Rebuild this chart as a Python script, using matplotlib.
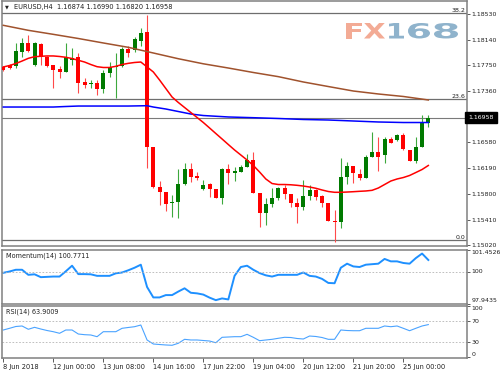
import numpy as np
import matplotlib
matplotlib.use('Agg')
import matplotlib.pyplot as plt
import matplotlib.transforms as mtrans
from matplotlib.textpath import TextPath
from matplotlib.patches import PathPatch
from matplotlib.font_manager import FontProperties

# EURUSD H4 candles
opens = [1.17721, 1.17756, 1.17741, 1.17958, 1.18090, 1.17756, 1.18075, 1.17882, 1.17756, 1.17691,
         1.17650, 1.17832, 1.17882, 1.17503, 1.17463, 1.17487, 1.17387, 1.17630, 1.17730, 1.17741,
         1.17994, 1.17984, 1.18125, 1.18261, 1.16511, 1.15904, 1.15828, 1.15661, 1.15681, 1.15950,
         1.16177, 1.16064, 1.15874, 1.15950, 1.15874, 1.15737, 1.16177, 1.16117, 1.16136, 1.16212,
         1.16314, 1.15818, 1.15514, 1.15646, 1.15737, 1.15889, 1.15798, 1.15661, 1.15601, 1.15768,
         1.15859, 1.15768, 1.15666, 1.15393, 1.15378, 1.16061, 1.16223, 1.16101, 1.16041, 1.16364,
         1.16435, 1.16390, 1.16633, 1.16618, 1.16693, 1.16466, 1.16303, 1.16511, 1.16874]
highs = [1.17741, 1.17771, 1.18090, 1.18166, 1.18211, 1.18110, 1.18090, 1.17893, 1.17756, 1.17741,
         1.18094, 1.18009, 1.17934, 1.17554, 1.17528, 1.17528, 1.17680, 1.17806, 1.17934, 1.18034,
         1.18044, 1.18176, 1.18313, 1.18515, 1.16511, 1.15995, 1.15828, 1.15783, 1.16177, 1.16268,
         1.16268, 1.16132, 1.16010, 1.15965, 1.15880, 1.16193, 1.16253, 1.16212, 1.16238, 1.16405,
         1.16440, 1.15818, 1.15737, 1.15889, 1.15909, 1.15935, 1.15798, 1.15737, 1.16010, 1.15935,
         1.15874, 1.15783, 1.15666, 1.15555, 1.16344, 1.16288, 1.16223, 1.16177, 1.16390, 1.16744,
         1.16663, 1.16668, 1.16663, 1.16705, 1.16724, 1.16466, 1.16668, 1.16997, 1.16990]
lows = [1.17665, 1.17695, 1.17706, 1.17882, 1.17953, 1.17741, 1.17756, 1.17726, 1.17402, 1.17554,
        1.17650, 1.17756, 1.17327, 1.17402, 1.17402, 1.17301, 1.17327, 1.17579, 1.17251, 1.17730,
        1.17882, 1.17958, 1.18044, 1.16193, 1.15889, 1.15631, 1.15540, 1.15449, 1.15434, 1.15935,
        1.15980, 1.16010, 1.15859, 1.15753, 1.15730, 1.15646, 1.15950, 1.16000, 1.16132, 1.16208,
        1.15813, 1.15297, 1.15328, 1.15601, 1.15707, 1.15722, 1.15601, 1.15358, 1.15555, 1.15707,
        1.15707, 1.15601, 1.15388, 1.15074, 1.15282, 1.15950, 1.15965, 1.16010, 1.16041, 1.16364,
        1.16152, 1.16273, 1.16572, 1.16605, 1.16466, 1.16299, 1.16273, 1.16511, 1.16820]
closes = [1.17680, 1.17706, 1.17973, 1.18090, 1.17969, 1.18090, 1.17873, 1.17741, 1.17680, 1.17650,
          1.17882, 1.17867, 1.17487, 1.17453, 1.17478, 1.17387, 1.17630, 1.17721, 1.17741, 1.17994,
          1.17934, 1.18146, 1.18237, 1.16516, 1.15904, 1.15828, 1.15646, 1.15681, 1.15950, 1.16177,
          1.16056, 1.16048, 1.15935, 1.15874, 1.15737, 1.16177, 1.16117, 1.16147, 1.16212, 1.16314,
          1.15818, 1.15514, 1.15646, 1.15737, 1.15889, 1.15798, 1.15661, 1.15605, 1.15768, 1.15859,
          1.15757, 1.15661, 1.15393, 1.15378, 1.16061, 1.16223, 1.16117, 1.16041, 1.16364, 1.16435,
          1.16364, 1.16633, 1.16577, 1.16693, 1.16481, 1.16303, 1.16511, 1.16880, 1.16958]

# red moving average, one value per bar
ma_fast = [1.17726, 1.17748, 1.17778, 1.17816, 1.17857, 1.17882, 1.17888, 1.17893, 1.17893, 1.17885,
           1.17873, 1.17854, 1.17827, 1.17801, 1.17763, 1.17730, 1.17718, 1.17718, 1.17736, 1.17763,
           1.17781, 1.17794, 1.17801, 1.17726, 1.17650, 1.17528, 1.17399, 1.17270, 1.17187, 1.17111,
           1.17035, 1.16959, 1.16883, 1.16800, 1.16716, 1.16633, 1.16549, 1.16466, 1.16390, 1.16314,
           1.16231, 1.16132, 1.16026, 1.15957, 1.15942, 1.15942, 1.15938, 1.15930, 1.15919, 1.15904,
           1.15885, 1.15859, 1.15836, 1.15824, 1.15824, 1.15828, 1.15833, 1.15839, 1.15844, 1.15854,
           1.15889, 1.15942, 1.15995, 1.16026, 1.16048, 1.16079, 1.16124, 1.16170, 1.16231]

# brown (slow) moving average
ma_slow_bars = [0, 4, 8, 12, 16, 20, 24, 28, 32, 36, 40, 44, 48, 52, 56, 60, 64, 68]
ma_slow = [1.18358, 1.18282, 1.18221, 1.18158, 1.18090, 1.18024, 1.17938, 1.17851, 1.17774,
           1.17710, 1.17642, 1.17579, 1.17498, 1.17429, 1.17361, 1.17316, 1.17278, 1.17225]

# blue moving average
ma_mid_bars = [0, 4, 8, 10, 12, 16, 20, 23, 24, 26, 28, 30, 32, 36, 40, 44, 48, 52, 56, 60, 64, 68]
ma_mid = [1.17118, 1.17118, 1.17118, 1.17126, 1.17133, 1.17133, 1.17133, 1.17138, 1.17118, 1.17088,
          1.17050, 1.17012, 1.16989, 1.16967, 1.16956, 1.16944, 1.16929, 1.16921, 1.16906, 1.16891,
          1.16883, 1.16883]

momentum = [99.938, 100.024, 100.136, 100.136, 99.807, 99.840, 99.655, 99.675, 99.695, 99.695,
            100.037, 100.399, 99.853, 99.853, 99.840, 99.741, 99.741, 99.741, 99.905, 99.958,
            100.103, 100.268, 100.465, 99.017, 98.338, 98.338, 98.490, 98.490, 98.720, 98.931,
            98.641, 98.602, 98.523, 98.325, 98.161, 98.273, 98.207, 99.741, 100.314, 100.399,
            100.136, 99.919, 99.774, 99.695, 99.807, 99.807, 99.807, 99.807, 99.958, 99.741,
            99.695, 99.543, 99.280, 99.260, 100.268, 100.531, 100.353, 100.314, 100.465, 100.498,
            100.531, 100.840, 100.682, 100.682, 100.577, 100.531, 100.893, 101.189, 100.7711]

rsi = [53.4, 56.7, 60.2, 61.2, 54.8, 58.6, 55.3, 52.4, 50.1, 47.0,
       53.4, 53.4, 45.6, 44.3, 43.7, 40.4, 50.1, 50.1, 50.1, 56.7,
       58.3, 59.8, 63.1, 34.0, 26.2, 25.2, 24.3, 23.7, 27.6, 35.3,
       34.0, 34.0, 33.0, 32.0, 28.7, 39.2, 39.8, 40.4, 40.4, 45.0,
       39.2, 32.6, 34.0, 35.3, 37.3, 39.2, 38.8, 36.9, 35.9, 41.7,
       40.8, 38.8, 35.3, 35.3, 53.4, 52.4, 52.0, 52.0, 56.7, 56.7,
       56.7, 61.2, 59.8, 61.2, 56.7, 52.0, 56.7, 61.2, 63.9009]

date_ticks = [0, 8, 16, 24, 32, 40, 48, 56, 64]
date_labels = ['8 Jun 2018', '12 Jun 00:00', '13 Jun 08:00', '14 Jun 16:00', '17 Jun 22:00',
               '19 Jun 04:00', '20 Jun 12:00', '21 Jun 20:00', '25 Jun 00:00']
price_ticks = [1.18530, 1.18140, 1.17750, 1.17360, 1.16580, 1.16190, 1.15800, 1.15410, 1.15020]
fib_levels = [1.18541, 1.17236, 1.15100]
fib_names = ['38.2', '23.6', '0.0']
last_price = 1.16958
mom_ticks = [97.9435, 100, 101.4526]
rsi_ticks = [0, 30, 70, 100]

W, H = 500, 375
FS = 4.5
frame = '#808080'
plt.rcParams['font.family'] = ['DejaVu Sans']

fig = plt.figure(figsize=(5, 3.75), dpi=100)


def px_axes(left, top, right, bottom):
    return fig.add_axes([left / W, 1 - bottom / H, (right - left) / W, (bottom - top) / H])


ax = px_axes(2, 1, 466.7, 246)
axm = px_axes(2, 249.5, 466.7, 303.5)
axr = px_axes(2, 305.5, 466.7, 358)

xlim = (-0.21, 74.14)
for a in (ax, axm, axr):
    a.set_xlim(*xlim)
    for s in a.spines.values():
        s.set_color(frame)
        s.set_linewidth(1.1)
    a.yaxis.tick_right()
    a.tick_params(axis='y', length=2, width=0.6, color='#404040', pad=1.5,
                  labelsize=FS, labelcolor='#202020')
    a.tick_params(axis='x', bottom=False, labelbottom=False)

# main price panel
x = np.arange(len(opens))
o = np.array(opens)
h = np.array(highs)
l = np.array(lows)
c = np.array(closes)
up = c >= o
body_col = np.where(up, '#007a00', '#ff0000')
wick_col = np.where(up, '#3da83d', '#ff4a4a')
ax.vlines(x, l, h, colors=wick_col, lw=0.8, zorder=3)
ax.bar(x, np.maximum(np.abs(c - o), 0.0001), bottom=np.minimum(o, c), width=0.62,
       color=body_col, linewidth=0, zorder=4)

ax.plot(ma_slow_bars, ma_slow, color='#a0522d', lw=1.1, zorder=5)
ax.plot(ma_mid_bars, ma_mid, color='#0000ff', lw=1.1, zorder=5)
ax.plot(x, ma_fast, color='#ff0000', lw=1.1, zorder=5)

ax.set_ylim(1.15009, 1.18727)
ax.set_yticks(price_ticks)
ax.set_yticklabels(['%.5f' % p for p in price_ticks])

yb = mtrans.blended_transform_factory(ax.transAxes, ax.transData)
for lev, name in zip(fib_levels, fib_names):
    ax.axhline(lev, color='#6e6e6e', lw=0.9, zorder=2)
    ax.text(0.998, lev, name, transform=yb, ha='right', va='bottom', fontsize=FS,
            color='#202020', zorder=6)
ax.axhline(last_price, color='#7a7a7a', lw=0.8, zorder=2)
ax.text(1.004, last_price, '%.5f' % last_price, transform=yb, ha='left', va='center',
        fontsize=FS, color='white', zorder=6, clip_on=False,
        bbox=dict(boxstyle='square,pad=0.5', fc='black', ec='black'))

ax.text(0.007, 0.976, '\u25bc', transform=ax.transAxes, fontsize=3.6, va='center',
        ha='left', color='#202020')
ax.text(0.026, 0.976, 'EURUSD,H4  1.16874 1.16990 1.16820 1.16958', transform=ax.transAxes,
        fontsize=4.8, va='center', ha='left', color='#202020')

# FX168 watermark, glyphs stretched into their boxes (pixel boxes from the top-left)
bold = FontProperties(family='DejaVu Sans', weight='bold')
wm = [('F', 346, 362, '#f3ab95'), ('X', 364, 385, '#f3ab95'), ('1', 389, 404, '#8fb3cc'),
      ('6', 408, 430, '#8fb3cc'), ('8', 434, 458, '#8fb3cc')]
for ch, x0, x1, col in wm:
    tp = TextPath((0, 0), ch, size=10, prop=bold)
    bb = tp.get_extents()
    tr = (mtrans.Affine2D().translate(-bb.x0, -bb.y0)
          .scale((x1 - x0) / bb.width / W, 15.5 / bb.height / H)
          .translate(x0 / W, 1 - 38.5 / H))
    ax.add_patch(PathPatch(tp, transform=tr + fig.transFigure, fc=col, ec='none',
                           zorder=0.5, clip_on=False))

# momentum panel
axm.plot(x, momentum, color='#1e90ff', lw=1.4)
axm.axhline(100, color='#b4b4b4', lw=0.6, ls=(0, (2, 2)))
axm.set_ylim(97.9435, 101.4526)
axm.set_yticks(mom_ticks)
axm.set_yticklabels(['97.9435', '100', '101.4526'])
for lab, va in zip(axm.get_yticklabels(), ['bottom', 'center', 'top']):
    lab.set_verticalalignment(va)
axm.text(0.008, 0.95, 'Momentum(14) 100.7711', transform=axm.transAxes, fontsize=4.7,
         va='top', ha='left', color='#202020')

# RSI panel
axr.plot(x, rsi, color='#4aa3ff', lw=0.8)
for lev in (70, 30):
    axr.axhline(lev, color='#b4b4b4', lw=0.6, ls=(0, (2, 2)))
axr.set_ylim(-1, 101)
axr.set_yticks(rsi_ticks)
axr.set_yticklabels([str(t) for t in rsi_ticks])
for lab, va in zip(axr.get_yticklabels(), ['bottom', 'center', 'center', 'top']):
    lab.set_verticalalignment(va)
axr.text(0.008, 0.95, 'RSI(14) 63.9009', transform=axr.transAxes, fontsize=4.7,
         va='top', ha='left', color='#202020')

axr.tick_params(axis='x', bottom=True, labelbottom=True, length=3, width=0.6,
                color='#404040', pad=1.5, labelsize=4.8, labelcolor='#202020')
axr.set_xticks(date_ticks)
axr.set_xticklabels(date_labels)
for lab in axr.get_xticklabels():
    lab.set_horizontalalignment('left')

fig.savefig('out.png', dpi=100, facecolor='white')
